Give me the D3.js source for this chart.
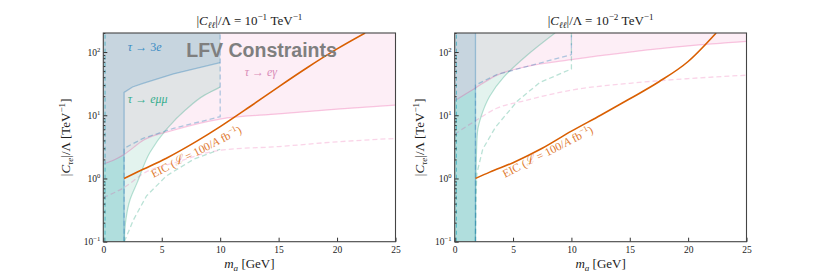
<!DOCTYPE html>
<html>
<head>
<meta charset="utf-8">
<script src="https://cdn.jsdelivr.net/npm/d3@7"></script>
<style>
  body { margin: 0; background: #fff; }
  svg { display: block; }
  text { font-family: "Liberation Serif", "DejaVu Serif", serif; }
</style>
</head>
<body>
<div id="app"></div>
<script>
const width = 830,
    height = 277;

// axes
const massTicks = [0, 5, 10, 15, 20, 25];
const couplingTicks = [0.1, 1, 10, 100];
const couplingExps = ["−1", "0", "1", "2"];
const panelExps = ["−1", "−2"];

// EIC projection (orange)
const eicMassLeft = [1.78, 3, 5.4, 8, 10, 12.5, 15, 17.5, 20, 22.4];
const eicCouplingLeft = [1.0, 1.29, 2.09, 3.89, 6.6, 13.5, 28.2, 57.5, 112, 200];
const eicMassRight = [1.78, 3, 5, 7.5, 10, 12.5, 15, 17.5, 20, 22.4];
const eicCouplingRight = [1.0, 1.26, 1.78, 3.0, 5.6, 10, 18.2, 33.9, 70.8, 200];

// tau -> e gamma (pink), current and projected
const egMass = [0, 1, 1.78, 3.5, 6, 10, 15, 20, 25];
const egLeft = [1.7, 2.0, 2.4, 4.1, 5.8, 8.7, 10.5, 12.5, 14.5];
const egRight = [17, 22, 27, 42, 58, 76, 100, 125, 147];
const egDashMass = [0, 1.78, 3.6, 6, 10, 15, 20, 25];
const egDashLeft = [0.5, 0.72, 1.25, 1.75, 2.8, 3.2, 3.8, 4.3];
const egDashRight = [5.0, 8.2, 12.9, 17, 25, 32, 38, 43];

// tau -> 3e (blue)
const threeEMassLeft = [0, 1, 1.78, 1.78, 2.5, 3.4, 6, 10, 10, 0];
const threeECouplingLeft = [1.7, 2.0, 2.4, 23, 28, 32, 45, 68, 200, 200];
const threeELineMassLeft = [1.78, 1.78, 2.5, 3.4, 6, 10];
const threeELineCouplingLeft = [0.1, 23, 28, 32, 45, 68];
const threeEMassRight = [0, 1, 1.78, 1.78, 0];
const threeECouplingRight = [17, 22, 27, 200, 200];
const threeELineMassRight = [1.78, 1.78];
const threeELineCouplingRight = [0.1, 200];
const threeEDashMassLeft = [1.78, 1.78, 3.4, 6, 10, 10];
const threeEDashLeft = [0.1, 3.0, 4.3, 6.2, 9.5, 200];
const threeEDashMassRight = [1.78, 1.78, 3.6, 10, 10];
const threeEDashRight = [0.1, 30, 44, 91, 200];

// tau -> e mu mu (teal)
const emmMassLeft = [1.8, 1.9, 2.3, 2.9, 4, 5.4, 7, 8.7, 10];
const emmCouplingLeft = [0.1, 0.2, 0.47, 0.86, 2.6, 6, 12, 21, 28];
const emmMassRight = [1.78, 1.8, 1.85, 1.95, 2.3, 3, 4.2, 6.2, 8.6];
const emmCouplingRight = [0.1, 0.5, 2, 5.4, 10, 20, 40, 89, 200];
const emmDashMassLeft = [1.8, 2.57, 3.7, 5.4, 7.7, 10];
const emmDashLeft = [0.1, 0.22, 0.53, 1.1, 2.0, 2.9];
const emmDashMassRight = [1.78, 1.82, 1.9, 2.4, 3.5, 5.4, 7.3, 10, 10];
const emmDashRight = [0.1, 0.5, 1.2, 2.9, 6.5, 17, 33, 54, 200];
// band below the tau mass, up to the tau -> e gamma line
const bandMass = [0, 1.78, 1.78, 1, 0];
const bandLeft = [0.1, 0.1, 2.4, 2.0, 1.7];
const bandRight = [0.1, 0.1, 27, 22, 17];
const edgeMass = [0.15, 0.15];

const blue = "#1f77b4", teal = "#1b9e77", pink = "#e7298a", orange = "#d95f02";

const zip = (ms, cs) => ms.map((m, i) => [m, cs[i]]);

const panels = [
    {x0: 103.3, x1: 395.5, exp: panelExps[0], labelX: 70, band: zip(bandMass, bandLeft),
     eic: zip(eicMassLeft, eicCouplingLeft), eg: zip(egMass, egLeft), egDash: zip(egDashMass, egDashLeft),
     threeE: zip(threeEMassLeft, threeECouplingLeft), threeELine: zip(threeELineMassLeft, threeELineCouplingLeft),
     threeEDash: zip(threeEDashMassLeft, threeEDashLeft),
     emm: zip(emmMassLeft, emmCouplingLeft), emmTop: emmMassLeft[emmMassLeft.length - 1],
     emmDash: zip(emmDashMassLeft, emmDashLeft), texts: true},
    {x0: 454.7, x1: 746.5, exp: panelExps[1], labelX: 424, band: zip(bandMass, bandRight),
     eic: zip(eicMassRight, eicCouplingRight), eg: zip(egMass, egRight), egDash: zip(egDashMass, egDashRight),
     threeE: zip(threeEMassRight, threeECouplingRight), threeELine: zip(threeELineMassRight, threeELineCouplingRight),
     threeEDash: zip(threeEDashMassRight, threeEDashRight),
     emm: zip(emmMassRight, emmCouplingRight), emmTop: emmMassRight[emmMassRight.length - 1],
     emmDash: zip(emmDashMassRight, emmDashRight), texts: false}
];

const svg = d3.select("#app").append("svg")
    .attr("width", width)
    .attr("height", height);

// math-ish text: parts are [string, flags], flags: i italic, ^ sup, _ sub
const addMath = (sel, parts, size) => {
    let shift = 0;
    parts.forEach(([t, f]) => {
        let target = 0;
        if (f.includes("^")) target = -size * 0.42;
        if (f.includes("_")) target = size * 0.22;
        const ts = sel.append("tspan").text(t).attr("dy", target - shift);
        shift = target;
        if (f.includes("i")) ts.attr("font-style", "italic");
        if (f.includes("^") || f.includes("_")) ts.attr("font-size", size * 0.7);
    });
};

const y = d3.scaleLog().domain([0.1, 200]).range([241.7, 33]);

panels.forEach((p, k) => {
    const x = d3.scaleLinear().domain([0, 25]).range([p.x0, p.x1]);
    const g = svg.append("g");

    svg.append("clipPath").attr("id", "clip" + k)
        .append("rect")
        .attr("x", p.x0).attr("y", y(200))
        .attr("width", p.x1 - p.x0).attr("height", y(0.1) - y(200));

    const plot = g.append("g").attr("clip-path", `url(#clip${k})`);
    const line = d3.line().x(d => x(d[0])).y(d => y(d[1]));
    const smooth = d3.line().x(d => x(d[0])).y(d => y(d[1])).curve(d3.curveMonotoneX);

    // tau -> e gamma excluded (above curve)
    plot.append("path")
        .attr("fill", pink).attr("fill-opacity", 0.08)
        .attr("d", d3.area().x(d => x(d[0])).y0(y(200)).y1(d => y(d[1])).curve(d3.curveMonotoneX)(p.eg));

    // tau -> e mu mu excluded (left of curve)
    plot.append("path")
        .attr("fill", teal).attr("fill-opacity", 0.12)
        .attr("d", d3.area().y(d => y(d[1])).x0(x(0)).x1(d => x(d[0])).curve(d3.curveMonotoneY)(
            [[p.emm[0][0], 0.1], ...p.emm, [p.emmTop, 200]]));

    // band below tau mass
    plot.append("path")
        .attr("fill", "#2aaab2").attr("fill-opacity", 0.28)
        .attr("d", line(p.band) + "Z");

    // tau -> 3e excluded
    plot.append("path")
        .attr("fill", blue).attr("fill-opacity", 0.13)
        .attr("d", line(p.threeE) + "Z");

    // boundaries
    plot.append("path").attr("fill", "none")
        .attr("stroke", pink).attr("stroke-opacity", 0.25).attr("stroke-width", 1.2)
        .attr("d", smooth(p.eg));
    plot.append("path").attr("fill", "none")
        .attr("stroke", pink).attr("stroke-opacity", 0.2).attr("stroke-width", 1.3)
        .attr("stroke-dasharray", "5,3")
        .attr("d", smooth(p.egDash));

    plot.append("path").attr("fill", "none")
        .attr("stroke", teal).attr("stroke-opacity", 0.3).attr("stroke-width", 1.2)
        .attr("d", d3.line().x(d => x(d[0])).y(d => y(d[1])).curve(d3.curveMonotoneY)(p.emm));
    plot.append("path").attr("fill", "none")
        .attr("stroke", teal).attr("stroke-opacity", 0.3).attr("stroke-width", 1.3)
        .attr("stroke-dasharray", "5,3")
        .attr("d", line(p.emmDash));
    plot.append("path").attr("fill", "none")
        .attr("stroke", "#17a2b8").attr("stroke-opacity", 0.6).attr("stroke-width", 1)
        .attr("stroke-dasharray", "4,3")
        .attr("d", line(zip(edgeMass, [0.1, 200])));

    plot.append("path").attr("fill", "none")
        .attr("stroke", blue).attr("stroke-opacity", 0.35).attr("stroke-width", 1.3)
        .attr("d", line(p.threeELine));
    plot.append("path").attr("fill", "none")
        .attr("stroke", blue).attr("stroke-opacity", 0.35).attr("stroke-width", 1.3)
        .attr("stroke-dasharray", "5,3")
        .attr("d", line(p.threeEDash));

    // EIC sensitivity
    plot.append("path").attr("fill", "none")
        .attr("stroke", orange).attr("stroke-width", 1.6)
        .attr("d", smooth(p.eic));

    const eicLabel = g.append("text")
        .attr("transform", `translate(${x(4.3)},${y(1.02)}) rotate(-27)`)
        .attr("fill", "#e07a30").attr("font-size", 11.5);
    addMath(eicLabel, [["EIC (", ""], ["ℒ", "i"], [" = 100/", ""], ["A", "i"], [" fb", ""], ["−1", "^"], [")", ""]], 11.5);

    if (p.texts) {
        g.append("text").attr("x", x(7.1)).attr("y", y(84))
            .style("font-family", "'Liberation Sans', Arial, sans-serif")
            .attr("font-weight", "bold").attr("font-size", 19.5)
            .attr("fill", "#7f7f7f")
            .text("LFV Constraints");
        const t1 = g.append("text").attr("x", x(2.1)).attr("y", y(105))
            .attr("fill", "#3a8cc4").attr("font-size", 12);
        addMath(t1, [["τ", "i"], [" → 3", ""], ["e", "i"]], 12);
        const t2 = g.append("text").attr("x", x(2.1)).attr("y", y(15.5))
            .attr("fill", "#35ad8d").attr("font-size", 12);
        addMath(t2, [["τ", "i"], [" →  ", ""], ["eμμ", "i"]], 12);
        const t3 = g.append("text").attr("x", x(12.1)).attr("y", y(42))
            .attr("fill", "#d98cb8").attr("font-size", 12);
        addMath(t3, [["τ", "i"], [" → ", ""], ["eγ", "i"]], 12);
    }

    // axes with inward ticks
    const xAxis = g.append("g")
        .attr("transform", `translate(0,${y(0.1)})`)
        .call(d3.axisBottom(x).tickValues(massTicks).tickSizeInner(-4).tickSizeOuter(0).tickPadding(5));
    xAxis.select(".domain").remove();
    xAxis.selectAll("text").style("font-family", "'Liberation Serif', serif").attr("font-size", 9.5).attr("fill", "#222");
    xAxis.selectAll("line").attr("stroke", "#333");

    const minor = y.ticks().filter(v => !couplingTicks.some(t => Math.abs(t - v) < 1e-9));
    const yMinor = g.append("g")
        .attr("transform", `translate(${p.x0},0)`)
        .call(d3.axisLeft(y).tickValues(minor).tickSize(-2).tickFormat(""));
    yMinor.select(".domain").remove();
    yMinor.selectAll("line").attr("stroke", "#333");
    const yAxis = g.append("g")
        .attr("transform", `translate(${p.x0},0)`)
        .call(d3.axisLeft(y).tickValues(couplingTicks).tickSize(-4).tickFormat(""));
    yAxis.select(".domain").remove();
    yAxis.selectAll("line").attr("stroke", "#333");

    couplingTicks.forEach((v, i) => {
        const t = g.append("text")
            .attr("x", p.x0 - 3).attr("y", y(v) + 3.5)
            .attr("text-anchor", "end").attr("font-size", 9.5).attr("fill", "#222");
        addMath(t, [["10", ""], [couplingExps[i], "^"]], 9.5);
    });

    g.append("rect")
        .attr("x", p.x0).attr("y", y(200))
        .attr("width", p.x1 - p.x0).attr("height", y(0.1) - y(200))
        .attr("fill", "none").attr("stroke", "#444").attr("stroke-width", 1.1);

    // titles and labels
    const title = g.append("text")
        .attr("x", (p.x0 + p.x1) / 2).attr("y", 25)
        .attr("text-anchor", "middle").attr("font-size", 13).attr("fill", "#222");
    addMath(title, [["|", ""], ["C", "i"], ["ℓℓ", "i_"], ["|/Λ = 10", ""], [p.exp, "^"], [" TeV", ""], ["−1", "^"]], 13);

    const xLabel = g.append("text")
        .attr("x", (p.x0 + p.x1) / 2).attr("y", 268)
        .attr("text-anchor", "middle").attr("font-size", 13).attr("fill", "#222");
    addMath(xLabel, [["m", "i"], ["a", "i_"], [" [GeV]", ""]], 13);

    const yLabel = g.append("text")
        .attr("transform", `translate(${p.labelX},${(y(0.1) + y(200)) / 2}) rotate(-90)`)
        .attr("text-anchor", "middle").attr("font-size", 13).attr("fill", "#222");
    addMath(yLabel, [["|", ""], ["C", "i"], ["τe", "i_"], ["|/Λ [TeV", ""], ["−1", "^"], ["]", ""]], 13);
});
</script>
</body>
</html>
